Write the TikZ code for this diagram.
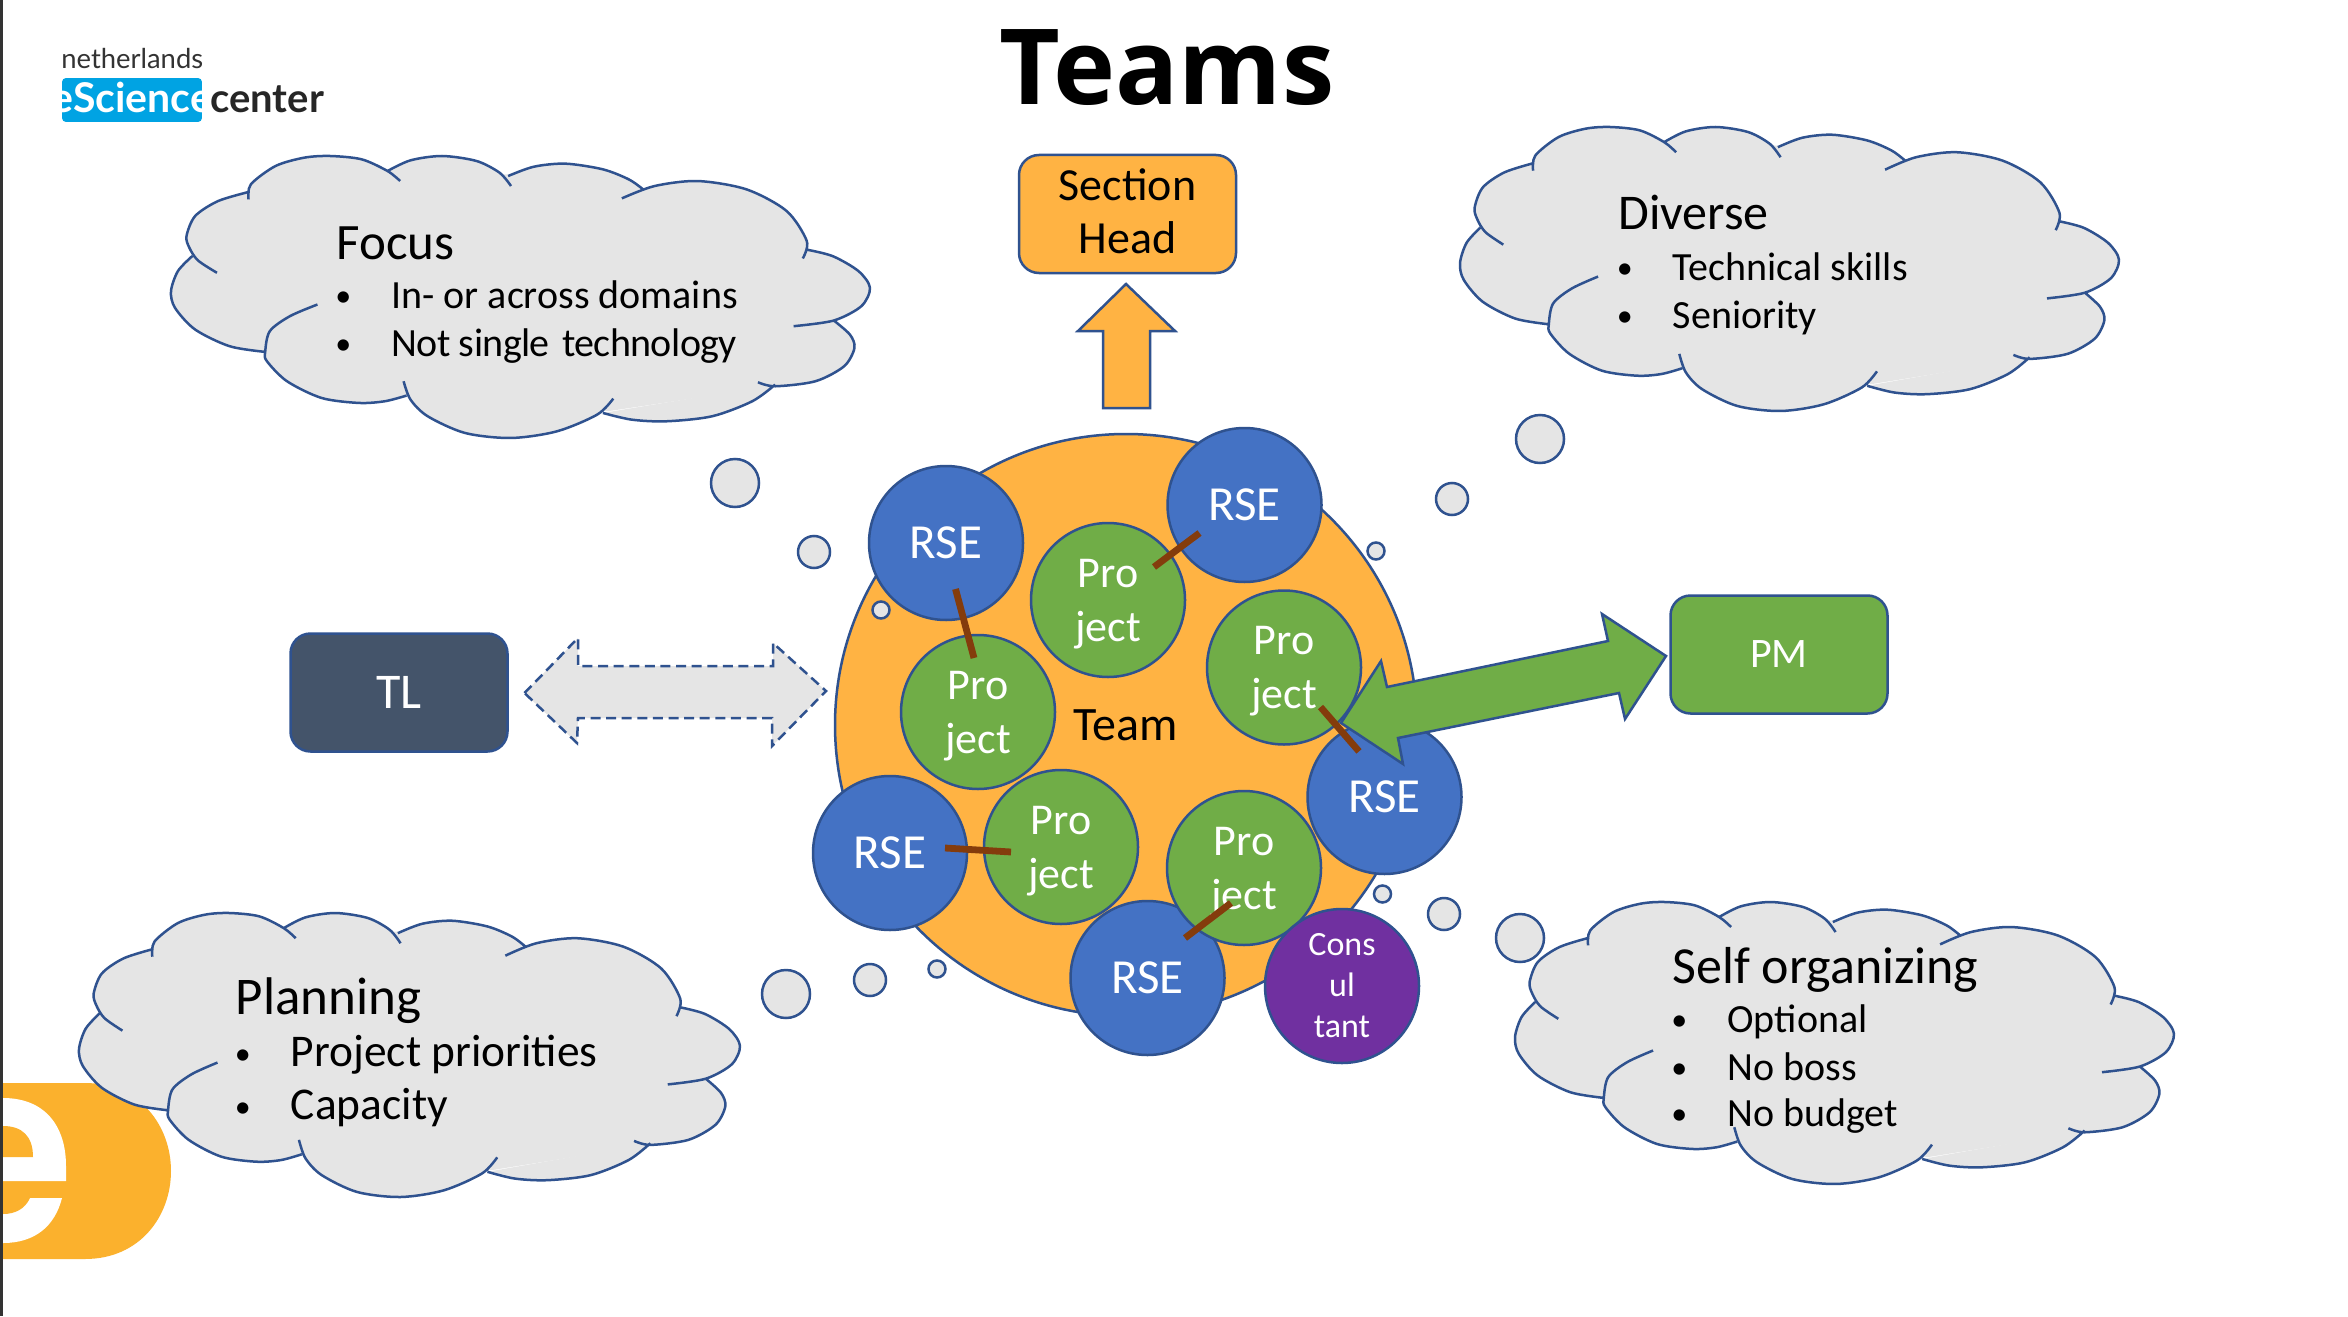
\documentclass[tikz,border=0pt]{standalone}
\usepackage{fontspec}
\setmainfont{Carlito}
\newfontfamily\titlefont{Open Sans}
\newfontfamily\logofont{Lato}
\usetikzlibrary{calc,shapes.geometric}
\definecolor{edgeblue}{HTML}{2F528F}
\definecolor{cloudgray}{HTML}{E5E5E5}
\definecolor{teamorange}{HTML}{FFB343}
\definecolor{logoorange}{HTML}{FBB12D}
\definecolor{rseblue}{HTML}{4472C4}
\definecolor{progreen}{HTML}{70AD47}
\definecolor{conspurple}{HTML}{7030A0}
\definecolor{tlnavy}{HTML}{44546A}
\definecolor{tiebrown}{HTML}{843C0C}
\definecolor{logocyan}{HTML}{00A3E3}
\definecolor{sideline}{HTML}{333333}
\tikzset{
  edge/.style={draw=edgeblue,line width=1.25pt},
  disc/.style={edge,circle,inner sep=0pt,minimum size=77pt,align=center,text=white},
  rsedisc/.style={disc,fill=rseblue,font=\fontsize{24.5}{27}\selectfont},
  prodisc/.style={disc,fill=progreen,font=\fontsize{22}{27}\selectfont},
  consdisc/.style={disc,fill=conspurple,font=\fontsize{17}{20.5}\selectfont},
  boxnode/.style={edge,rounded corners=10pt,minimum width=108.5pt,minimum height=59pt,inner sep=0pt,align=center},
  tie/.style={draw=tiebrown,line width=3.4pt},
  cloudtitle/.style={anchor=base west,inner sep=0pt,font=\fontsize{25.5}{30}\selectfont},
  item/.style={anchor=base west,inner sep=0pt,font=\fontsize{20}{24}\selectfont},
  bigitem/.style={item,font=\fontsize{22.7}{26}\selectfont},
}
\newcommand{\prolabel}{\rule{0pt}{18pt}Pro\\ject}
\newcommand{\bul}{\makebox[26.5pt][l]{\kern-1.5pt\raisebox{1pt}{\fontsize{16}{16}\selectfont •}}}
\newcommand{\cloudlobes}{
  plot[smooth] coordinates {(462,1052) (400,1035) (340,985) (305,920) (298,870) (310,810) (335,765)}
  plot[smooth] coordinates {(378,815) (345,778) (330,740) (325,705) (340,645) (380,600) (435,572)}
  plot[smooth] coordinates {(433,595) (437,550) (480,495) (530,470) (575,465) (630,475) (675,510) (697,540)}
  plot[smooth] coordinates {(675,510) (715,478) (770,465) (830,480) (870,515) (890,555)}
  plot[smooth] coordinates {(885,525) (930,497) (985,488) (1050,505) (1095,535) (1120,565)}
  plot[smooth] coordinates {(1083,592) (1140,555) (1215,540) (1300,565) (1370,630) (1405,720) (1398,772)}
  plot[smooth] coordinates {(1403,745) (1450,765) (1495,810) (1515,860) (1500,915) (1452,958) (1382,975)}
  plot[smooth] coordinates {(1452,958) (1480,1000) (1488,1040) (1470,1095) (1420,1140) (1350,1155) (1320,1143)}
  plot[smooth] coordinates {(1350,1150) (1310,1200) (1240,1245) (1160,1260) (1100,1255) (1050,1235)}
  plot[smooth] coordinates {(1068,1192) (1040,1240) (970,1290) (890,1310) (810,1295) (745,1245) (715,1195) (703,1140)}
  plot[smooth] coordinates {(708,1183) (670,1200) (625,1205) (560,1190) (500,1140) (465,1080) (462,1052) (470,990) (505,945) (553,910)}
}
% x, y of the top left corner, width, height of the cloud, in pixels
\newcommand{\cloudshape}[4]{%
  \begin{scope}[shift={(#1,#2)},x=#3/1217*0.5pt,y=-#4/845*0.5pt,shift={(-298,-465)}]
    \fill[cloudgray] \cloudlobes;
    \filldraw[cloudgray,line width=1.5pt,line join=round] (462,1052) -- (335,765) -- (435,572) -- (675,510) -- (885,525) -- (1105,565)
      -- (1403,745) -- (1452,958) -- (1350,1150) -- (1060,1225) -- (708,1183) -- cycle;
    \draw[edgeblue,line width=1.25pt,line join=round] \cloudlobes;
  \end{scope}}
\begin{document}
\begin{tikzpicture}[x=0.5pt,y=-0.5pt]
\useasboundingbox (0,-1) rectangle (2348,1315);
\fill[white] (0,-1) rectangle (2348,1315);
\fill[sideline] (0,-1) rectangle (3,1315);

% corner logo, bottom left
\begin{scope}
  \clip (3,1000) rectangle (300,1300);
  \fill[logoorange] (3,1082) -- (85,1082) .. controls (140,1082) and (171,1125) .. (171,1170)
    .. controls (171,1215) and (140,1258) .. (85,1258) -- (3,1258) -- cycle;
  \fill[white] (3,1097) .. controls (45,1097) and (66,1125) .. (66,1165) -- (66,1180) -- (3,1180) -- cycle;
  \fill[white] (3,1197) -- (62,1197) .. controls (55,1225) and (35,1242) .. (3,1242) -- cycle;
  \fill[logoorange] (3,1125) .. controls (22,1125) and (33,1135) .. (33,1156) -- (3,1156) -- cycle;
  \fill[logoorange] (3,1197) -- (30,1197) .. controls (25,1208) and (15,1213) .. (3,1213) -- cycle;
\end{scope}

% corner logo, top left
\node[anchor=base west,inner sep=0pt,font=\logofont\fontsize{13.7}{16}\selectfont,text=black!80] (lognl) at (61,68) {netherlands};
\begin{scope}
  \path[clip,rounded corners=2pt] (62,77) rectangle (202,121);
  \fill[logocyan] (62,77) rectangle (202,121);
  \node[anchor=base,inner sep=0pt,font=\logofont\bfseries\fontsize{20.5}{24}\selectfont,text=white] (logesc) at (132,112) {eScience};
\end{scope}
\node[anchor=base west,inner sep=0pt,font=\logofont\bfseries\fontsize{20}{24}\selectfont,text=black!85] (logctr) at (210,112) {center};

% title
\node[anchor=base,inner sep=0pt,font=\titlefont\bfseries\fontsize{52.5}{60}\selectfont] (title) at (1167,104) {Teams};

% clouds
\cloudshape{171}{155}{699}{282}
\cloudshape{1460}{126}{659}{284}
\cloudshape{79}{912}{661}{284}
\cloudshape{1515}{901}{659}{282}

% thought bubbles
\foreach \nm/\cx/\cy/\r in {fa/735/482/24,fb/814/551/16,
                            da/1540/438/24,db/1452/498/16,
                            pa/786/993/24,pb/870/979/16,
                            sa/1520/937/24,sb/1444/913/16}
  \node[edge,fill=cloudgray,circle,inner sep=0pt,minimum size=\r pt] (\nm) at (\cx,\cy) {};

% team
\node[edge,fill=teamorange,circle,inner sep=0pt,minimum size=291pt,font=\fontsize{24}{27}\selectfont] (team) at (1126,724) {Team};

% small bubbles over or beside the team
\foreach \nm/\cx/\cy in {fc/881/609,dc/1376/550,pc/937/968,sc/1382.5/893}
  \node[edge,fill=cloudgray,circle,inner sep=0pt,minimum size=8.5pt] (\nm) at (\cx,\cy) {};

% people
\node[rsedisc] (rsea) at (946,542) {RSE};
\node[rsedisc] (rseb) at (1244.5,504) {RSE};
\node[rsedisc] (rsec) at (1384.5,796) {RSE};
\node[rsedisc] (rsed) at (890,852) {RSE};
\node[rsedisc] (rsee) at (1147.5,977) {RSE};

% projects
\node[prodisc] (proa) at (1108,599) {\prolabel};
\node[prodisc] (prob) at (1284,666.5) {\prolabel};
\node[prodisc] (proc) at (978,711) {\prolabel};
\node[prodisc] (prod) at (1061,846) {\prolabel};
\node[prodisc] (proe) at (1244,867) {\prolabel};
\node[consdisc] (cons) at (1342,985) {Cons\\ul\\tant};

% section head and up arrow
\node[boxnode,fill=teamorange,font=\fontsize{23}{26.5}\selectfont] (sect) at (1127.5,213) {\rule{0pt}{13pt}Section\\Head\rule[-2.5pt]{0pt}{2.5pt}};
\draw[edge,fill=teamorange,line join=miter] (1126,283) -- (1175,330) -- (1150,330) -- (1150,407) -- (1103,407) -- (1103,330) -- (1078,330) -- cycle;

% TL and PM
\node[boxnode,fill=tlnavy,text=white,font=\fontsize{25}{27}\selectfont] (tl) at (399,691.5) {TL};
\node[boxnode,fill=progreen,text=white,font=\fontsize{21}{27}\selectfont] (pm) at (1779,653.5) {PM};

% dashed double arrow
\fill[cloudgray] (524.5,692) -- (578,637) -- (578,665) -- (773,665) -- (773,642) -- (826,690) -- (772,745) -- (772,717) -- (578,717) -- (577,742) -- cycle;
\draw[draw=edgeblue,line width=1.25pt,dash pattern=on 5pt off 2.8pt] (524.5,692) -- (578,637) -- (578,665) -- (773,665) -- (773,642) -- (826,690) -- (772,745) -- (772,717) -- (578,717) -- (577,742) -- cycle;

% green double arrow
\draw[edge,fill=progreen,line join=miter] (1341,722) -- (1381,660) -- (1387,686) -- (1608,640) -- (1602,613) -- (1666,655) -- (1625,718) -- (1619,692) -- (1398,737) -- (1403,763) -- cycle;

% ties
\draw[tie] ($(rsea)+(9.5,46)$) -- ($(proc)+(-4,-54)$);
\draw[tie] ($(rseb)+(-45,28)$) -- ($(proa)+(46,-33)$);
\draw[tie] ($(prob)+(36.5,39.5)$) -- ($(rsec)+(-25.5,-45.6)$);
\draw[tie] ($(rsed)+(55,-5)$) -- ($(prod)+(-50,5)$);
\draw[tie] ($(proe)+(-13,35)$) -- ($(rsee)+(37.5,-40)$);

% cloud texts
\node[cloudtitle] (ftitle) at (336,258) {Focus};
\node[cloudtitle,font=\fontsize{25}{30}\selectfont] (dtitle) at (1618,228.5) {Diverse};
\node[cloudtitle,font=\fontsize{26.5}{30}\selectfont] (ptitle) at (235.5,1013) {Planning};
\node[cloudtitle,font=\fontsize{26}{30}\selectfont] (stitle) at (1672,982.5) {Self organizing};

\node[item] (fone) at (338,307) {\bul In- or across domains};
\node[item] (ftwo) at (338,355) {\bul\addfontfeature{LetterSpace=-1.5}Not single\hspace{2pt} technology};
\node[item] (done) at (1619.5,279) {\bul Technical skills};
\node[item] (dtwo) at (1619.5,327) {\bul Seniority};
\node[bigitem] (pone) at (237.5,1065) {\bul Project priorities};
\node[bigitem] (ptwo) at (237.5,1118) {\bul Capacity};
\node[item] (sone) at (1674,1031) {\bul Optional};
\node[item] (stwo) at (1674,1079) {\bul No boss};
\node[item] (sthr) at (1674,1125.5) {\bul No budget};
\end{tikzpicture}
\end{document}
